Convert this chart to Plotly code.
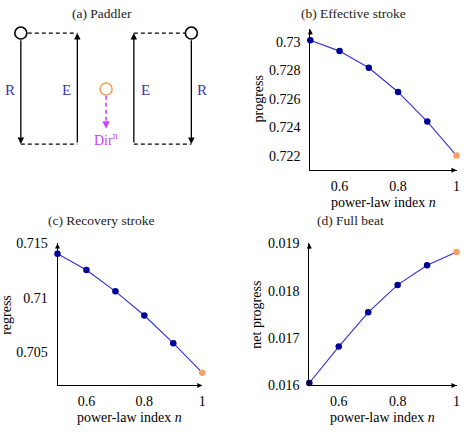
import plotly.graph_objects as go

# power-law index
n_vals = [0.5, 0.6, 0.7, 0.8, 0.9, 1.0]
progress = [0.73010, 0.72934, 0.72817, 0.72647, 0.72439, 0.72200]
regress = [0.71405, 0.71257, 0.71061, 0.70839, 0.70585, 0.70315]
net_progress = [0.01605, 0.01682, 0.017545, 0.018125, 0.018541, 0.01882]

x_ticks = [0.6, 0.8, 1.0]
x_ticktext = ["0.6", "0.8", "1"]
b_ticks = [0.722, 0.724, 0.726, 0.728, 0.73]
b_ticktext = ["0.722", "0.724", "0.726", "0.728", "0.73"]
c_ticks = [0.705, 0.71, 0.715]
c_ticktext = ["0.705", "0.71", "0.715"]
d_ticks = [0.016, 0.017, 0.018, 0.019]
d_ticktext = ["0.016", "0.017", "0.018", "0.019"]

W, H = 464, 432
FONT = "Liberation Serif"
line_col = "#3030d0"
mark_col = "#000099"
orange = "#f7a064"
magenta = "#cc44ff"
label_blue = "#3838b8"


def px(x):
    return x / W


def py(y):
    return 1 - y / H


fig = go.Figure()

# ---- (a) paddler diagram, drawn in pixel-like coords ----
frame_left = [21, 78]
frame_right = [135, 193]
top_y, bot_y = 27, 142
circle_x = [21, 193]
for x0, x1 in [frame_left, frame_right]:
    for yy in [top_y, bot_y]:
        fig.add_trace(go.Scatter(x=[x0, x1], y=[yy, yy], mode="lines",
                                 line=dict(color="black", width=1.3, dash="4px,3px"),
                                 xaxis="x", yaxis="y", showlegend=False, hoverinfo="skip"))
# magenta dashed direction line
fig.add_trace(go.Scatter(x=[107, 107], y=[92, 120], mode="lines",
                         line=dict(color=magenta, width=1.6, dash="4px,3px"),
                         xaxis="x", yaxis="y", showlegend=False, hoverinfo="skip"))
fig.add_trace(go.Scatter(x=circle_x, y=[top_y, top_y], mode="markers",
                         marker=dict(size=12, color="white", line=dict(color="black", width=1.6)),
                         xaxis="x", yaxis="y", showlegend=False, hoverinfo="skip"))
fig.add_trace(go.Scatter(x=[107], y=[85], mode="markers",
                         marker=dict(size=12, color="white", line=dict(color=orange, width=1.6)),
                         xaxis="x", yaxis="y", showlegend=False, hoverinfo="skip"))

annotations = []
# stroke arrows: (x, tail_y, head_y)
stroke_arrows = [(21, 33, bot_y), (78, bot_y, top_y), (135, bot_y, top_y), (193, 33, bot_y)]
for xa, y_tail, y_head in stroke_arrows:
    annotations.append(dict(x=xa, y=y_head, ax=xa, ay=y_tail, xref="x", yref="y",
                            axref="x", ayref="y", showarrow=True, arrowhead=2,
                            arrowsize=1, arrowwidth=1.3, arrowcolor="black", text=""))
annotations.append(dict(x=107, y=126, ax=107, ay=119, xref="x", yref="y",
                        axref="x", ayref="y", showarrow=True, arrowhead=2,
                        arrowsize=1, arrowwidth=1.5, arrowcolor=magenta, text=""))
for txt, xt in [("R", 10), ("E", 67), ("E", 147), ("R", 204)]:
    annotations.append(dict(x=xt, y=86, xref="x", yref="y", text=txt, showarrow=False,
                            font=dict(family=FONT, size=15, color=label_blue)))
annotations.append(dict(x=107, y=137, xref="x", yref="y", text="Dir<sup>n</sup>",
                        showarrow=False, font=dict(family=FONT, size=14, color=magenta)))

# ---- data panels ----
panels = [
    ("x2", "y2", progress),
    ("x3", "y3", regress),
    ("x4", "y4", net_progress),
]
for xa, ya, vals in panels:
    fig.add_trace(go.Scatter(x=n_vals, y=vals, mode="lines",
                             line=dict(color=line_col, width=1.1),
                             xaxis=xa, yaxis=ya, showlegend=False))
    fig.add_trace(go.Scatter(x=n_vals[:-1], y=vals[:-1], mode="markers",
                             marker=dict(size=6.5, color=mark_col),
                             xaxis=xa, yaxis=ya, showlegend=False, cliponaxis=False))
    fig.add_trace(go.Scatter(x=n_vals[-1:], y=vals[-1:], mode="markers",
                             marker=dict(size=6.5, color=orange),
                             xaxis=xa, yaxis=ya, showlegend=False, cliponaxis=False))
    # arrow tips on axis lines
    annotations.append(dict(x=1, y=0, ax=-7, ay=0, xref=xa + " domain", yref=ya + " domain",
                            showarrow=True, arrowhead=2, arrowsize=1, arrowwidth=1,
                            arrowcolor="black", text=""))
    annotations.append(dict(x=0, y=1, ax=0, ay=7, xref=xa + " domain", yref=ya + " domain",
                            showarrow=True, arrowhead=2, arrowsize=1, arrowwidth=1,
                            arrowcolor="black", text=""))

tick_font = dict(family=FONT, size=14, color="black")
lab_font = dict(family=FONT, size=14, color="black")
title_font = dict(family=FONT, size=13.5, color="#222222")

titles = [("(a) Paddler", 103, 7), ("(b) Effective stroke", 357, 7),
          ("(c) Recovery stroke", 102, 221), ("(d) Full beat", 354, 221)]
for txt, xt, yt in titles:
    annotations.append(dict(x=px(xt), y=py(yt), xref="paper", yref="paper", text=txt,
                            showarrow=False, font=title_font, xanchor="center", yanchor="middle"))

axis_labels = [("power-law index <i>n</i>", 387, 203, 0), ("progress", 261, 95, -90),
               ("power-law index <i>n</i>", 131, 425, 0), ("regress", 7, 319, -90),
               ("power-law index <i>n</i>", 386, 425, 0), ("net progress", 259, 319, -90)]
for txt, xt, yt, ang in axis_labels:
    annotations.append(dict(x=px(xt), y=py(yt), xref="paper", yref="paper", text=txt,
                            showarrow=False, font=lab_font, textangle=ang,
                            xanchor="center", yanchor="middle"))


def xax(x0, x1, anchor):
    return dict(domain=[px(x0), px(x1)], range=[0.5, 1.0], anchor=anchor,
                tickvals=x_ticks, ticktext=x_ticktext, tickfont=tick_font,
                showline=True, linecolor="black", linewidth=1, showgrid=False,
                zeroline=False, ticks="", ticklabelstandoff=3)


def yax(y_top, y_bot, rng, tv, tt, anchor):
    return dict(domain=[py(y_bot), py(y_top)], range=rng, anchor=anchor,
                tickvals=tv, ticktext=tt, tickfont=tick_font,
                showline=True, linecolor="black", linewidth=1, showgrid=False,
                zeroline=False, ticks="", ticklabelstandoff=6)


fig.update_layout(
    width=W, height=H,
    margin=dict(l=0, r=0, t=0, b=0),
    paper_bgcolor="white", plot_bgcolor="white",
    xaxis=dict(domain=[0, 0.5], range=[0, 232], visible=False, anchor="y"),
    yaxis=dict(domain=[0.5, 1], range=[216, 0], visible=False, anchor="x"),
    xaxis2=xax(313, 460.5, "y2"),
    yaxis2=yax(23, 169, [0.72098, 0.73088], b_ticks, b_ticktext, "x2"),
    xaxis3=xax(58, 204, "y3"),
    yaxis3=yax(245, 392, [0.70198, 0.7150], c_ticks, c_ticktext, "x3"),
    xaxis4=xax(312, 460.5, "y4"),
    yaxis4=yax(245, 392, [0.016, 0.019], d_ticks, d_ticktext, "x4"),
    annotations=annotations,
    showlegend=False,
)

# pin the graph to the page corner (default body margin would shift it)
pin_js = ("document.body.style.margin='0px';"
          "var gd=document.getElementById('{plot_id}');"
          "gd.style.position='fixed';gd.style.left='0px';gd.style.top='0px';")
fig.write_html("out.html", post_script=pin_js, config={"displayModeBar": False})
